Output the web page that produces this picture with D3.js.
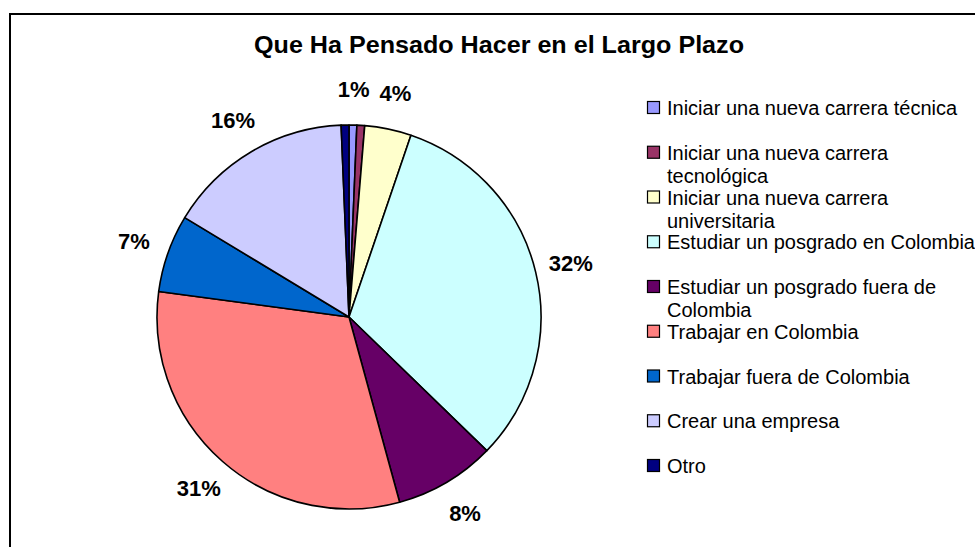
<!DOCTYPE html>
<html>
<head>
<meta charset="utf-8">
<script src="https://cdn.jsdelivr.net/npm/d3@7"></script>
<style>
  html, body { margin: 0; padding: 0; background: #fff; }
  svg { display: block; font-family: "Liberation Sans", Arial, sans-serif; }
</style>
</head>
<body>
<div id="chart"></div>
<script>
// data (counts, rounded % shown as labels)
const categories = [
  'Iniciar una nueva carrera técnica',
  'Iniciar una nueva carrera\ntecnológica',
  'Iniciar una nueva carrera\nuniversitaria',
  'Estudiar un posgrado en Colombia',
  'Estudiar un posgrado fuera de\nColombia',
  'Trabajar en Colombia',
  'Trabajar fuera de Colombia',
  'Crear una empresa',
  'Otro'
];
const counts = [1, 1, 6, 49, 13, 48, 10, 24, 1];
const showLabel = [true, false, true, true, true, true, true, true, false];
const colors = ['#9999FF', '#993366', '#FFFFCC', '#CCFFFF', '#660066',
                '#FF8080', '#0066CC', '#CCCCFF', '#000080'];
const title = 'Que Ha Pensado Hacer en el Largo Plazo';

const width = 975, height = 547;
const cx = 349, cy = 317, radius = 192;

const svg = d3.select('#chart').append('svg')
  .attr('width', width)
  .attr('height', height);

// chart area frame (runs off the right and bottom)
svg.append('rect')
  .attr('x', 10).attr('y', 14)
  .attr('width', 1000).attr('height', 600)
  .attr('fill', '#fff')
  .attr('stroke', '#000')
  .attr('stroke-width', 2);

svg.append('text')
  .attr('x', 499).attr('y', 53)
  .attr('text-anchor', 'middle')
  .attr('font-size', 23)
  .attr('font-weight', 'bold')
  .attr('textLength', 490)
  .attr('lengthAdjust', 'spacingAndGlyphs')
  .text(title);

const total = d3.sum(counts);
const pie = d3.pie().sort(null).value(d => d.v);
const data = categories.map((c, i) => ({ name: c, v: counts[i], color: colors[i], show: showLabel[i] }));
const arcs = pie(data);

const arc = d3.arc().innerRadius(0).outerRadius(radius);
const labelArc = d3.arc().innerRadius(radius + 36).outerRadius(radius + 36);

const g = svg.append('g').attr('transform', 'translate(' + cx + ',' + cy + ')');

g.selectAll('path')
  .data(arcs)
  .enter().append('path')
  .attr('d', arc)
  .attr('fill', d => d.data.color)
  .attr('stroke', '#000')
  .attr('stroke-width', 1.6)
  .attr('stroke-linejoin', 'round');

g.selectAll('text.pct')
  .data(arcs.filter(d => d.data.show))
  .enter().append('text')
  .attr('class', 'pct')
  .attr('transform', d => 'translate(' + labelArc.centroid(d) + ')')
  .attr('text-anchor', 'middle')
  .attr('dy', '0.35em')
  .attr('font-size', 22)
  .attr('font-weight', 'bold')
  .text(d => Math.round(d.data.v / total * 100) + '%');

// legend
const legendY = d3.scalePoint()
  .domain(d3.range(categories.length))
  .range([115, 473]);

const legend = svg.append('g')
  .selectAll('g')
  .data(data)
  .enter().append('g')
  .attr('transform', (d, i) => 'translate(647,' + legendY(i) + ')');

legend.append('rect')
  .attr('x', 0.5).attr('y', -13.5)
  .attr('width', 12).attr('height', 12)
  .attr('fill', d => d.color)
  .attr('stroke', '#000')
  .attr('stroke-width', 1.2);

legend.append('text')
  .attr('x', 20)
  .attr('font-size', 20)
  .attr('fill', '#000')
  .selectAll('tspan')
  .data(d => d.name.split('\n'))
  .enter().append('tspan')
  .attr('x', 20)
  .attr('dy', (d, i) => i === 0 ? 0 : 23)
  .text(d => d);
</script>
</body>
</html>
